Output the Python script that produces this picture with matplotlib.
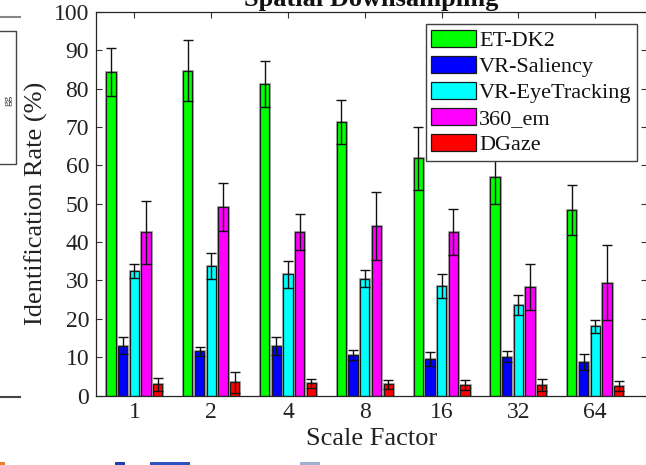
import matplotlib
matplotlib.use('Agg')
import matplotlib.pyplot as plt
from matplotlib.lines import Line2D
from matplotlib.patches import Rectangle
import numpy as np

plt.rcParams['font.family'] = ['Liberation Serif', 'DejaVu Serif']
plt.rcParams['mathtext.fontset'] = 'stix'

scales = ['1', '2', '4', '8', '16', '32', '64']
methods = ['ET-DK2', 'VR-Saliency', 'VR-EyeTracking', '360_em', 'DGaze']
colors = ['#00ff00', '#0000ff', '#00ffff', '#ff00ff', '#ff0000']

# mean identification rate (%) and std per scale factor
et_dk2 = [84.3, 84.7, 81.2, 71.3, 61.8, 57.1, 48.4]
et_dk2_sd = [6.2, 7.9, 6.0, 5.8, 8.3, 7.1, 6.6]
vr_saliency = [13.0, 11.5, 12.9, 10.6, 9.6, 10.1, 8.7]
vr_saliency_sd = [2.3, 1.2, 2.3, 1.3, 1.8, 1.4, 2.0]
vr_eyetracking = [32.5, 33.7, 31.6, 30.5, 28.6, 23.6, 18.1]
vr_eyetracking_sd = [1.8, 3.4, 3.5, 2.2, 3.1, 2.6, 1.7]
em_360 = [42.6, 49.1, 42.6, 44.2, 42.7, 28.4, 29.4]
em_360_sd = [8.2, 6.2, 4.7, 8.8, 6.0, 6.0, 9.8]
dgaze = [2.9, 3.4, 3.2, 2.9, 2.7, 2.7, 2.4]
dgaze_sd = [1.7, 2.8, 1.2, 1.1, 1.3, 1.5, 1.3]

means = [et_dk2, vr_saliency, vr_eyetracking, em_360, dgaze]
stds = [et_dk2_sd, vr_saliency_sd, vr_eyetracking_sd, em_360_sd, dgaze_sd]

W, H = 646, 465
fig = plt.figure(figsize=(W/100, H/100), dpi=100)
ax = fig.add_axes([96/W, 1-395.5/H, 551/W, 383.5/H])

x = np.arange(1, len(scales)+1)
step = 0.152
width = 0.121
for i in range(len(methods)):
    pos = x + (i-2)*step
    # light halo like the antialiased matlab export
    ax.bar(pos, means[i], width, color='none', edgecolor='#b0b0b0', linewidth=2.2, zorder=1)
    ax.bar(pos, means[i], width, color=colors[i], edgecolor='#1a1a1a', linewidth=0.9,
           label=methods[i], zorder=2)
    ax.errorbar(pos, means[i], yerr=stds[i], fmt='none', ecolor='#111111',
                elinewidth=1.0, capsize=3.5, capthick=1.0, zorder=3)

ax.set_xlim(0.5, 0.5 + 551/76.8)
ax.set_ylim(0, 100)
ax.set_xticks(x)
ax.set_xticklabels(scales)
ax.set_yticks(np.arange(0, 101, 10))
ax.tick_params(direction='in', top=True, right=True, length=4, width=0.8,
               color='#333333', labelsize=17, labelcolor='#222222', pad=5)
for s in ax.spines.values():
    s.set_linewidth(0.9)
    s.set_color('#262626')

ax.set_title('Spatial Downsampling', fontweight='bold', fontsize=19, pad=4.3, color='#111111')
ax.set_xlabel('Scale Factor', fontsize=19, color='#222222')
ax.set_ylabel('Identification Rate (%)', fontsize=19, color='#222222')
ax.xaxis.set_label_coords(0.5, -0.085)
ax.yaxis.set_label_coords(-0.087, 0.5)

leg = ax.legend(loc='upper right', bbox_to_anchor=((637-96)/551, (395.5-24)/383.5),
                borderaxespad=0, fontsize=16, handlelength=2.0, handleheight=0.85,
                handletextpad=0.15, borderpad=0.25, labelspacing=0.2, fancybox=False,
                framealpha=1, edgecolor='#404040')
leg.get_frame().set_linewidth(1.0)
for t in leg.get_texts():
    t.set_color('#111111')

# fragments of the neighbouring panel at the left edge
def pline(xs, ys, c='#555555', lw=1.2):
    fig.add_artist(Line2D([v/W for v in xs], [1-v/H for v in ys], color=c, lw=lw))

pline([0, 20], [17, 17], '#888888', 1.5)
pline([0, 16, 16, 0], [31, 31, 164, 164], '#444444', 1.0)
pline([0, 20], [396.5, 396.5], '#444444', 1.5)
fig.text(8/W, 1-100/H, 'gg', rotation=90, fontsize=8, ha='center', va='center', color='#333333')

# bits of the figure below
for x0, x1, c in [(0, 5, '#f08030'), (115, 125, '#2040b0'), (150, 190, '#3050c0'), (300, 320, '#a0b0d0')]:
    fig.add_artist(Rectangle((x0/W, 0), (x1-x0)/W, 3/H, color=c, lw=0))

fig.savefig('out.png', dpi=100)
